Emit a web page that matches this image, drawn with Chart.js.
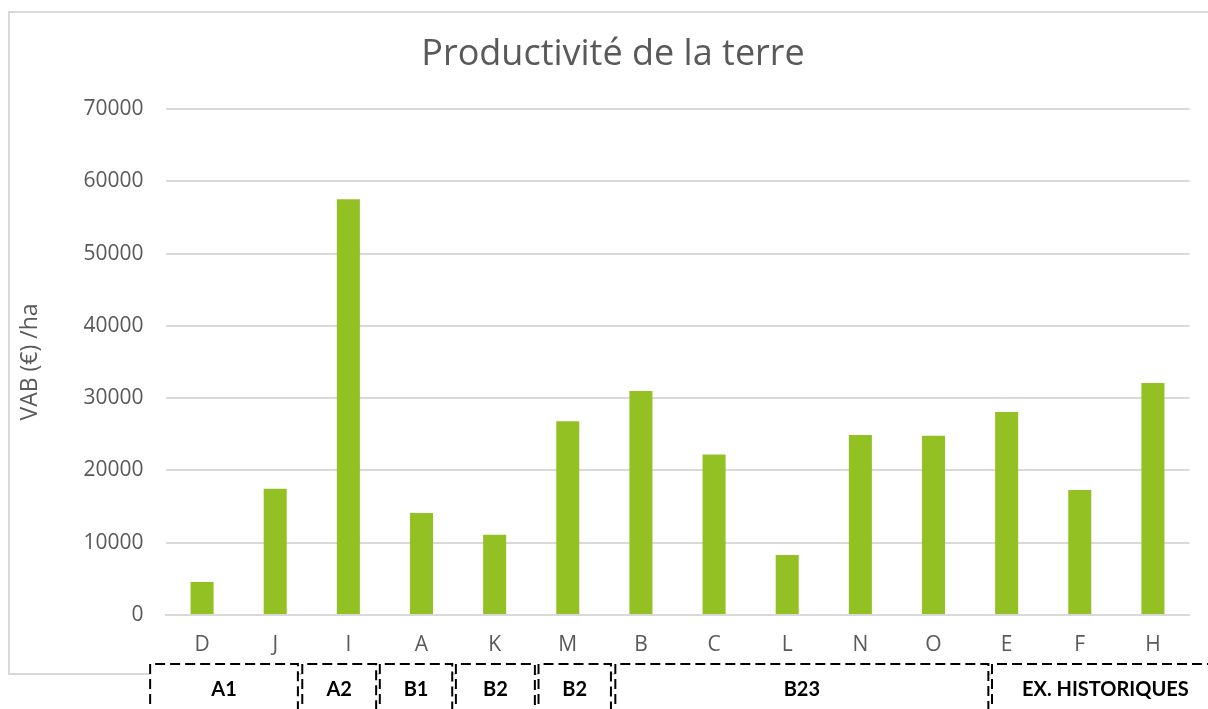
<!DOCTYPE html>
<html>
<head>
<meta charset="utf-8">
<script src="https://cdn.jsdelivr.net/npm/chart.js@4"></script>
<style>
  html, body { margin: 0; padding: 0; background: #ffffff; }
  #wrap { width: 1208px; height: 709px; position: relative; }
</style>
</head>
<body>
<div id="wrap"><canvas id="landChart"></canvas></div>
<script>
// data
const farms = ['D', 'J', 'I', 'A', 'K', 'M', 'B', 'C', 'L', 'N', 'O', 'E', 'F', 'H'];
const vabPerHa = [4550, 17450, 57500, 14100, 11100, 26800, 31000, 22200, 8300, 24900, 24800, 28100, 17300, 32100];
const yTicks = [0, 10000, 20000, 30000, 40000, 50000, 60000, 70000];
const groupLabels = ['A1', 'A2', 'B1', 'B2', 'B2', 'B23', 'EX. HISTORIQUES'];
const groupSizes = [2, 1, 1, 1, 1, 5, 3];
const chartTitle = 'Productivité de la terre';

const textGrey = '#595959';
const gridGrey = '#d9d9d9';
const baseFont = "'Open Sans', sans-serif";

// hand-drawn boxes under the axis are a bit off the category bounds
const boxShift = [[-0.21, -0.19], [-0.13, -0.12], [-0.07, -0.08], [-0.03, 0.05], [0.10, 0.09], [0.15, 0.25], [0.30, 0.4]];

// outer frame + title (frame runs past the right edge, title centred on it)
const chartFrame = {
    id: 'chartFrame',
    beforeDraw(chart) {
        const ctx = chart.ctx;
        ctx.save();
        ctx.strokeStyle = gridGrey;
        ctx.lineWidth = 2;
        ctx.strokeRect(9, 12, chart.width + 20, 662);
        ctx.fillStyle = textGrey;
        ctx.font = "36px 'Open Sans', sans-serif";
        ctx.textAlign = 'center';
        ctx.textBaseline = 'middle';
        ctx.fillText(chartTitle, (chart.width + 18) / 2, 55);
        ctx.restore();
    }
};

const groupBoxes = {
    id: 'groupBoxes',
    afterDraw(chart) {
        const ctx = chart.ctx;
        const x = chart.scales.x;
        const top = 664;
        let start = 0;
        ctx.save();
        groupSizes.forEach((n, i) => {
            const end = start + n - 1;
            const left = x.getPixelForValue(start - 0.5 + boxShift[i][0]);
            const right = x.getPixelForValue(end + 0.5 + boxShift[i][1]);
            ctx.fillStyle = '#ffffff';
            ctx.fillRect(left, top, right - left, chart.height - top + 10);
            ctx.strokeStyle = '#000000';
            ctx.lineWidth = 2;
            ctx.setLineDash([10, 5]);
            ctx.beginPath();
            ctx.moveTo(left, chart.height + 10);
            ctx.lineTo(left, top);
            ctx.lineTo(right, top);
            ctx.lineTo(right, chart.height + 10);
            ctx.stroke();
            ctx.setLineDash([]);
            ctx.fillStyle = '#000000';
            ctx.font = "bold 20px Lato, sans-serif";
            ctx.textAlign = 'center';
            ctx.textBaseline = 'middle';
            ctx.fillText(groupLabels[i], (left + right) / 2, 690);
            start += n;
        });
        ctx.restore();
    }
};

const ctx = document.getElementById('landChart').getContext('2d');

new Chart(ctx, {
    type: 'bar',
    data: {
        labels: farms,
        datasets: [{
            label: 'VAB (€) /ha',
            data: vabPerHa,
            backgroundColor: '#93c123',
            borderWidth: 0,
            categoryPercentage: 1,
            barPercentage: 0.315
        }]
    },
    options: {
        responsive: true,
        maintainAspectRatio: false,
        animation: false,
        layout: {
            padding: { left: 10, right: 18.5, top: 109, bottom: 34 }
        },
        plugins: {
            legend: { display: false },
            tooltip: { enabled: false },
            title: { display: false }
        },
        scales: {
            x: {
                grid: { display: false, drawTicks: false },
                border: { display: true, color: gridGrey, width: 2 },
                ticks: {
                    color: textGrey,
                    font: { family: baseFont, size: 21 },
                    padding: 17,
                    maxRotation: 0
                },
                afterFit: function (scale) {
                    scale.height = 60;
                }
            },
            y: {
                min: 0,
                max: 70000,
                afterBuildTicks: function (scale) {
                    scale.ticks = yTicks.map(v => ({ value: v }));
                },
                grid: { color: gridGrey, lineWidth: 2, drawTicks: false },
                border: { display: false },
                ticks: {
                    color: textGrey,
                    font: { family: baseFont, size: 21 },
                    padding: 22,
                    callback: function (value) {
                        return String(value);
                    }
                },
                title: {
                    display: true,
                    text: 'VAB (€) /ha',
                    color: textGrey,
                    font: { family: baseFont, size: 23 },
                    padding: { top: 7, bottom: 0 }
                },
                afterFit: function (scale) {
                    scale.width = 155.5;
                }
            }
        }
    },
    plugins: [chartFrame, groupBoxes]
});
</script>
</body>
</html>
